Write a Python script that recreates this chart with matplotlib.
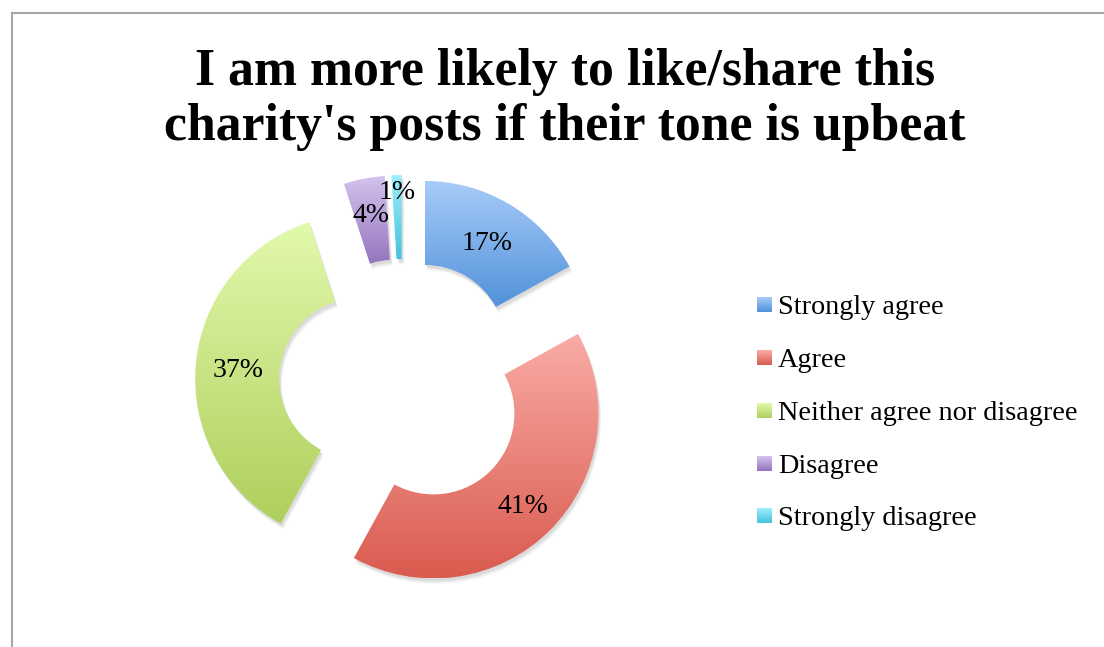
import numpy as np
import matplotlib
matplotlib.use("Agg")
import matplotlib.pyplot as plt
from matplotlib.colors import LinearSegmentedColormap
from matplotlib.patches import Shadow
from matplotlib.lines import Line2D

# Survey responses
categories = ["Strongly agree", "Agree", "Neither agree nor disagree",
              "Disagree", "Strongly disagree"]
shares = [17, 41, 37, 4, 1]
title_lines = ["I am more likely to like/share this",
               "charity's posts if their tone is upbeat"]

# Gradient end colours for each slice (top -> bottom)
top_colors = ["#a7cbf8", "#f9aca6", "#e2f9ac", "#d5c3ed", "#9defFb"]
bottom_colors = ["#5292da", "#da5b4f", "#aecf5c", "#9474bd", "#46c2dc"]
# radial position of each percentage label, as a fraction of the outer radius
label_radius = [0.745, 0.77, 0.745, 0.79, 0.91]

W, H = 1104, 647
fig = plt.figure(figsize=(W / 100, H / 100), dpi=100)
ax = fig.add_axes([0, 0, 1, 1])

serif = "Liberation Serif"
R, ring, explode_dist = 165, 84, 43
center = (403, H - 383)

wedges, _ = ax.pie(shares, radius=R, center=center, startangle=90,
                   counterclock=False, explode=[explode_dist] * len(shares),
                   wedgeprops=dict(width=ring, linewidth=0), frame=True)


def vertical_gradient(x0, x1, y0, y1, c_bottom, c_top, clip):
    cmap = LinearSegmentedColormap.from_list("g", [c_bottom, c_top])
    grad = np.linspace(0, 1, 256).reshape(-1, 1)
    im = ax.imshow(grad, cmap=cmap, extent=[x0, x1, y0, y1], origin="lower",
                   aspect="auto", interpolation="bilinear", zorder=3)
    im.set_clip_path(clip)
    return im


for w, ct, cb, share, lr in zip(wedges, top_colors, bottom_colors, shares, label_radius):
    # soft drop shadow
    for k, a in [(4, 0.035), (3, 0.05), (2, 0.06)]:
        sh = Shadow(w, k * 0.5, -k, facecolor="black", alpha=a, zorder=1)
        ax.add_patch(sh)
    w.set_facecolor("none")
    w.set_zorder(2)
    ext = w.get_path().get_extents()
    vertical_gradient(ext.x0, ext.x1, ext.y0, ext.y1, cb, ct, w)
    mid = np.deg2rad((w.theta1 + w.theta2) / 2)
    cx, cy = w.center
    ax.annotate(f"{share}%",
                xy=(cx + lr * R * np.cos(mid), cy + lr * R * np.sin(mid)),
                xytext=(0, -3), textcoords="offset pixels",
                ha="center", va="center", fontsize=20, family=serif,
                color="black", zorder=5)

# Legend drawn as gradient swatches with labels
leg_x, leg_y0, leg_dy, sw = 757, H - 305, 52.7, 15
for i, (name, ct, cb) in enumerate(zip(categories, top_colors, bottom_colors)):
    y = leg_y0 - i * leg_dy
    cmap = LinearSegmentedColormap.from_list("l", [cb, ct])
    ax.imshow(np.linspace(0, 1, 64).reshape(-1, 1), cmap=cmap,
              extent=[leg_x, leg_x + sw, y - sw / 2, y + sw / 2],
              origin="lower", aspect="auto", zorder=4)
    ax.text(leg_x + sw + 6, y, name, ha="left", va="center_baseline",
            fontsize=20.3, family=serif, color="black")

ax.set_xlim(0, W)
ax.set_ylim(0, H)
ax.axis("off")

for line, base in zip(title_lines, [85, 140]):
    fig.text(565 / W, 1 - base / H, line, ha="center", va="baseline",
             fontsize=37.3, fontweight="bold", family=serif)

# chart area border
fig.add_artist(Line2D([11.5 / W, 11.5 / W], [0, 1 - 12.5 / H],
                      transform=fig.transFigure, color="#a6a6a6", lw=1.5))
fig.add_artist(Line2D([11.5 / W, 1], [1 - 12.5 / H, 1 - 12.5 / H],
                      transform=fig.transFigure, color="#a6a6a6", lw=1.5))

fig.savefig("out.png", dpi=100, facecolor="white")
